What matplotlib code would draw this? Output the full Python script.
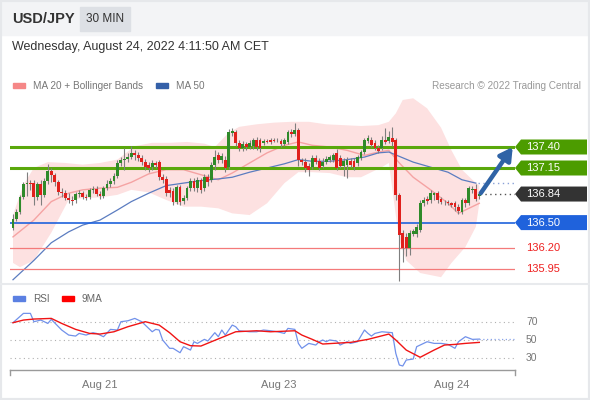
import numpy as np
import matplotlib.pyplot as plt
import matplotlib.transforms as mtransforms
from matplotlib.patches import Polygon, Rectangle
from matplotlib.lines import Line2D

plt.rcParams['font.family'] = ['Liberation Sans', 'DejaVu Sans']

# ── 30 min USD/JPY candles ──
opens = [
    136.44, 136.54, 136.63, 136.80, 136.96, 136.97, 136.97, 136.80, 136.96, 136.83,
    137.00, 137.11, 137.07, 136.98, 136.86, 136.85, 136.79, 136.77, 136.77, 136.84,
    136.85, 136.80, 136.80, 136.89, 136.90, 136.84, 136.82, 136.91, 136.96, 137.00,
    137.05, 137.21, 137.25, 137.26, 137.28, 137.33, 137.30, 137.27, 137.22, 137.19,
    137.16, 137.21, 137.22, 137.04, 137.02, 136.89, 136.88, 136.75, 136.92, 136.76,
    136.79, 136.91, 137.00, 136.91, 137.01, 136.91, 137.04, 137.01, 137.19, 137.30,
    137.25, 137.25, 137.16, 137.57, 137.58, 137.45, 137.39, 137.44, 137.40, 137.41,
    137.48, 137.48, 137.45, 137.47, 137.48, 137.48, 137.48, 137.47, 137.44, 137.46,
    137.58, 137.55, 137.60, 137.25, 137.22, 137.17, 137.16, 137.27, 137.23, 137.17,
    137.22, 137.25, 137.25, 137.33, 137.27, 137.17, 137.19, 137.23, 137.23, 137.21,
    137.27, 137.34, 137.47, 137.48, 137.45, 137.39, 137.39, 137.48, 137.47, 137.51,
    137.48, 136.83, 136.38, 136.33, 136.20, 136.36, 136.36, 136.41, 136.73, 136.78,
    136.77, 136.83, 136.85, 136.78, 136.75, 136.75, 136.73, 136.73, 136.69, 136.63,
    136.77, 136.73, 136.89, 136.90, 136.82,
]
highs = [
    136.60, 136.66, 136.83, 136.98, 137.10, 137.01, 137.01, 136.98, 137.01, 137.03,
    137.20, 137.15, 137.09, 137.01, 136.91, 136.89, 136.85, 136.82, 136.86, 136.89,
    136.88, 136.84, 136.91, 136.94, 136.94, 136.88, 136.94, 137.01, 137.03, 137.09,
    137.25, 137.28, 137.39, 137.33, 137.41, 137.36, 137.34, 137.30, 137.26, 137.22,
    137.25, 137.23, 137.25, 137.08, 137.05, 136.92, 136.91, 136.95, 136.95, 136.83,
    136.94, 137.03, 137.03, 137.04, 137.03, 137.08, 137.08, 137.22, 137.36, 137.34,
    137.33, 137.29, 137.61, 137.63, 137.60, 137.48, 137.47, 137.46, 137.48, 137.51,
    137.52, 137.51, 137.50, 137.50, 137.51, 137.51, 137.51, 137.50, 137.51, 137.60,
    137.61, 137.69, 137.63, 137.27, 137.27, 137.21, 137.30, 137.30, 137.27, 137.27,
    137.29, 137.30, 137.33, 137.38, 137.30, 137.27, 137.28, 137.27, 137.27, 137.30,
    137.36, 137.51, 137.54, 137.52, 137.48, 137.42, 137.53, 137.63, 137.59, 137.64,
    137.51, 136.85, 136.41, 136.38, 136.41, 136.42, 136.48, 136.77, 136.80, 136.82,
    136.89, 136.86, 136.88, 136.80, 136.77, 136.77, 136.75, 136.76, 136.72, 136.79,
    136.79, 136.94, 136.94, 136.96, 136.86,
]
lows = [
    136.41, 136.52, 136.60, 136.78, 136.82, 136.89, 136.71, 136.77, 136.71, 136.80,
    136.96, 136.98, 136.94, 136.83, 136.80, 136.77, 136.73, 136.71, 136.73, 136.80,
    136.78, 136.77, 136.78, 136.85, 136.82, 136.78, 136.79, 136.89, 136.92, 136.96,
    137.03, 137.17, 137.13, 137.22, 137.26, 137.25, 137.23, 137.19, 137.13, 137.10,
    137.13, 137.15, 137.01, 136.97, 136.82, 136.80, 136.71, 136.72, 136.71, 136.72,
    136.77, 136.88, 136.88, 136.86, 136.85, 136.88, 136.94, 136.98, 137.13, 137.21,
    137.21, 137.10, 137.14, 137.53, 137.41, 137.35, 137.35, 137.36, 137.38, 137.38,
    137.36, 137.34, 137.42, 137.45, 137.44, 137.46, 137.46, 137.40, 137.41, 137.44,
    137.52, 137.53, 137.17, 137.19, 137.10, 137.05, 137.14, 137.20, 137.13, 137.15,
    137.20, 137.22, 137.22, 137.13, 137.15, 137.05, 137.03, 137.16, 137.13, 137.17,
    137.25, 137.32, 137.45, 137.40, 137.36, 137.33, 137.36, 137.44, 137.45, 137.41,
    136.77, 135.80, 136.03, 136.10, 136.11, 136.34, 136.33, 136.39, 136.70, 136.72,
    136.73, 136.77, 136.73, 136.72, 136.71, 136.71, 136.69, 136.64, 136.60, 136.60,
    136.69, 136.71, 136.85, 136.76, 136.78,
]
closes = [
    136.54, 136.63, 136.80, 136.96, 136.97, 136.96, 136.80, 136.96, 136.83, 137.00,
    137.11, 137.07, 136.98, 136.86, 136.85, 136.79, 136.77, 136.76, 136.84, 136.85,
    136.80, 136.79, 136.89, 136.90, 136.84, 136.82, 136.91, 136.96, 137.00, 137.05,
    137.21, 137.25, 137.26, 137.28, 137.33, 137.30, 137.27, 137.22, 137.16, 137.15,
    137.21, 137.19, 137.04, 137.01, 136.85, 136.85, 136.75, 136.92, 136.75, 136.79,
    136.91, 137.00, 136.91, 137.01, 136.89, 137.04, 136.98, 137.19, 137.28, 137.25,
    137.29, 137.15, 137.58, 137.59, 137.45, 137.39, 137.44, 137.40, 137.45, 137.48,
    137.40, 137.39, 137.47, 137.46, 137.46, 137.47, 137.48, 137.44, 137.48, 137.58,
    137.55, 137.60, 137.25, 137.22, 137.15, 137.13, 137.27, 137.22, 137.15, 137.22,
    137.26, 137.28, 137.30, 137.15, 137.17, 137.23, 137.25, 137.19, 137.16, 137.28,
    137.34, 137.48, 137.51, 137.42, 137.39, 137.35, 137.48, 137.46, 137.52, 137.46,
    136.83, 136.35, 136.20, 136.20, 136.38, 136.40, 136.45, 136.73, 136.77, 136.76,
    136.85, 136.85, 136.77, 136.75, 136.74, 136.73, 136.71, 136.69, 136.64, 136.77,
    136.73, 136.91, 136.90, 136.78, 136.84,
]

# ── Indicators (sampled at candle index) ──
ma20_idx = [0, 6, 11, 16, 20, 25, 30, 34, 39, 44, 49, 54, 59, 63, 68, 73, 78, 82, 86,
            91, 96, 101, 105, 108, 111, 115, 120, 125, 128, 131, 134]
ma20_val = [136.33, 136.53, 136.75, 136.85, 136.89, 136.91, 136.92, 136.98, 137.08, 137.13,
            137.13, 137.07, 137.01, 137.09, 137.21, 137.33, 137.42, 137.46, 137.42, 137.40,
            137.36, 137.30, 137.34, 137.36, 137.21, 137.04, 136.89, 136.73, 136.61, 136.67,
            136.73]

ma50_idx = [0, 6, 11, 16, 20, 25, 30, 34, 39, 44, 49, 54, 59, 63, 68, 73, 78, 82, 86,
            91, 96, 101, 105, 108, 115, 120, 125, 129, 133]
ma50_val = [135.82, 136.05, 136.26, 136.39, 136.47, 136.53, 136.65, 136.75, 136.85, 136.94,
            136.97, 137.00, 137.02, 137.04, 137.10, 137.15, 137.20, 137.25, 137.23, 137.23,
            137.25, 137.28, 137.33, 137.34, 137.22, 137.16, 137.10, 137.01, 136.97]

bb_up_idx = [0, 3, 6, 10, 15, 20, 25, 30, 35, 40, 45, 50, 55, 58, 62, 65, 70, 75, 80, 85,
             90, 95, 100, 105, 108, 110, 112, 115, 119, 123, 126, 129, 132, 134]
bb_up_val = [136.59, 136.95, 137.15, 137.22, 137.21, 137.19, 137.21, 137.25, 137.41, 137.45,
             137.45, 137.46, 137.44, 137.40, 137.57, 137.64, 137.67, 137.69, 137.70, 137.70,
             137.67, 137.66, 137.65, 137.66, 137.70, 137.80, 137.96, 137.98, 137.86, 137.63,
             137.36, 137.13, 137.01, 136.94]
bb_lo_idx = [0, 2, 6, 11, 16, 20, 25, 30, 34, 39, 44, 49, 54, 59, 63, 68, 73, 78, 82, 86,
             91, 96, 100, 103, 106, 108, 110, 111, 113, 117, 123, 126, 130, 133, 134]
bb_lo_val = [136.02, 135.97, 136.05, 136.38, 136.77, 136.79, 136.80, 136.83, 136.89, 136.86,
             136.77, 136.69, 136.69, 136.67, 136.61, 136.59, 136.73, 136.97, 137.10, 137.10,
             137.09, 137.04, 137.04, 137.10, 137.16, 137.21, 136.59, 136.29, 136.05, 135.90,
             135.85, 136.02, 136.21, 136.45, 136.73]

rsi_idx = [0, 3, 5, 6, 8, 10, 11, 14, 16, 18, 19, 21, 23, 24, 26, 28, 30, 31, 33, 35,
           37, 38, 40, 41, 42, 43, 45, 46, 48, 49, 50, 51, 52, 53, 55, 56, 58, 59, 60, 61,
           63, 64, 65, 68, 70, 72, 74, 76, 78, 79, 81, 82, 83, 85, 87, 88, 89, 90, 91, 93,
           94, 96, 97, 99, 101, 102, 103, 104, 106, 109, 110, 111, 112, 113, 115, 116, 117,
           119, 121, 123, 125, 127, 128, 130, 132, 134]
rsi_val = [68.9, 79.1, 79.1, 70.0, 71.8, 68.1, 72.5, 60.9, 55.4, 54.3, 57.2, 55.4, 58.0, 57.2,
           53.6, 61.6, 60.9, 70.0, 71.0, 73.6, 70.0, 66.3, 59.0, 61.6, 60.9, 50.0, 40.9, 40.9,
           36.1, 42.7, 40.9, 39.0, 48.1, 46.3, 50.7, 48.9, 58.0, 53.6, 60.9, 55.4, 66.3, 64.5,
           60.1, 59.0, 59.0, 60.9, 60.1, 59.0, 57.2, 62.7, 61.6, 46.3, 40.9, 46.3, 44.5, 48.1,
           50.0, 48.1, 50.0, 48.9, 44.5, 48.1, 46.3, 48.1, 60.9, 57.2, 54.3, 57.2, 59.0, 58.0,
           35.4, 22.7, 21.6, 28.1, 29.2, 42.7, 44.5, 48.1, 46.3, 46.3, 45.2, 40.9, 48.1, 53.6,
           50.7, 51.0]
ma9_idx = [0, 3, 6, 11, 14, 18, 22, 25, 29, 33, 38, 42, 45, 48, 51, 54, 57, 61, 64, 70,
           74, 81, 83, 86, 89, 92, 97, 102, 108, 110, 113, 117, 121, 124, 127, 130, 134]
ma9_val = [68.9, 71.8, 72.9, 73.6, 68.1, 61.6, 57.2, 56.5, 59.0, 64.5, 70.0, 66.3, 58.0, 48.1,
           43.8, 43.4, 48.1, 54.3, 59.0, 60.1, 59.0, 60.1, 55.4, 50.7, 45.6, 46.3, 47.4, 50.7,
           56.5, 50.0, 39.0, 31.1, 39.0, 44.5, 45.2, 46.3, 47.4]

levels_res = [137.40, 137.15]
level_pivot = 136.50
levels_sup = [136.20, 135.95]
tick_pos = [25, 76.4, 126.1]
tick_labels = ['Aug 21', 'Aug 23', 'Aug 24']

# ── Figure ──
W, H = 590, 400
fig = plt.figure(figsize=(W / 100, H / 100), dpi=100)

def px_axes(x0, y0, x1, y1):
    return fig.add_axes([x0 / W, 1 - y1 / H, (x1 - x0) / W, (y1 - y0) / H])

def fx(x):
    return x / W

def fy(y):
    return 1 - y / H

GREEN = '#4c9c00'
LINE_GREEN = '#5aa80c'
BLUE = '#1f62dc'
RED = '#ee2020'
GREY_TXT = '#777777'

# header strip
fig.patches.append(Rectangle((0, fy(35)), 1, 35 / H, transform=fig.transFigure,
                             color='#f3f4f6', zorder=0))
fig.patches.append(Rectangle((fx(80), fy(31)), 50 / W, 24 / H, transform=fig.transFigure,
                             color='#dde0e5', zorder=1))
fig.text(fx(12), fy(19), 'USD/JPY', weight='bold', fontsize=10.5, color='#333333', va='center')
fig.text(fx(105), fy(19), '30 MIN', fontsize=8.5, color='#333333', va='center', ha='center')
fig.text(fx(12), fy(47), 'Wednesday, August 24, 2022 4:11:50 AM CET', fontsize=9,
         color='#333333', va='center')

# top legend
fig.patches.append(Rectangle((fx(13), fy(88)), 12 / W, 5 / H, transform=fig.transFigure,
                             color='#f58787'))
fig.text(fx(33), fy(86), 'MA 20 + Bollinger Bands', fontsize=7.2, color=GREY_TXT, va='center')
fig.patches.append(Rectangle((fx(156), fy(88)), 12 / W, 5 / H, transform=fig.transFigure,
                             color='#3460a8'))
fig.text(fx(176), fy(86), 'MA 50', fontsize=7.2, color=GREY_TXT, va='center')
fig.text(fx(581), fy(86), 'Research \u00a9 2022 Trading Central', fontsize=7.2,
         color='#999999', va='center', ha='right')

# separators / frame
fig.lines.append(Line2D([0, 1], [fy(284), fy(284)], transform=fig.transFigure,
                        color='#e8eaed', lw=1.5))
fig.patches.append(Rectangle((0, 0), 1, 1, transform=fig.transFigure, fill=False,
                             edgecolor='#e6e8eb', lw=3))

# ── Price panel ──
n = len(closes)
idx = np.arange(n)
o = np.array(opens)
c = np.array(closes)
xmin, xmax = (10 - 13) / 3.48, (515 - 13) / 3.48

ax = px_axes(10, 95, 515, 283)
ax.set_xlim(xmin, xmax)
ax.set_ylim(137.40 - 136 / 84, 137.40 + 52 / 84)
ax.axis('off')

ax.fill(np.r_[bb_up_idx, bb_lo_idx[::-1]], np.r_[bb_up_val, bb_lo_val[::-1]],
        color='#fde1e1', lw=0, zorder=1)
ax.plot(ma20_idx, ma20_val, color='#f5a3a3', lw=1, zorder=2)
ax.plot(ma50_idx, ma50_val, color='#5b7cc0', lw=0.9, zorder=2)

for lv in levels_res:
    ax.axhline(lv, color=LINE_GREEN, lw=2.2, zorder=2.5)
ax.axhline(level_pivot, color=BLUE, lw=1.2, zorder=2.5)
for lv in levels_sup:
    ax.axhline(lv, color='#f47a7a', lw=0.9, zorder=2.5)

up = c >= o
ax.vlines(idx, lows, highs, color='#7f7f7f', lw=0.8, zorder=3)
ax.bar(idx, np.maximum(np.abs(c - o), 0.008), bottom=np.minimum(o, c), width=0.8,
       color=np.where(up, '#2f8a2a', '#e0201c'), lw=0, zorder=4)

# dotted continuation of last price and MA50
ax.plot([n - 0.7, xmax], [closes[-1]] * 2, ls=(0, (1, 2.5)), color='#555555', lw=1, zorder=3)
ax.plot([n - 1.5, xmax], [ma50_val[-1]] * 2, ls=(0, (1, 2.5)), color='#8aa2d8', lw=1, zorder=3)

# forecast arrow
ax.annotate('', xy=(n - 1 + 9.6, levels_res[0]), xytext=(n - 1 + 0.4, closes[-1] + 0.01),
            arrowprops=dict(arrowstyle='-|>,head_width=0.42,head_length=0.75',
                            color='#2f63a6', lw=3.2, shrinkA=0, shrinkB=0),
            annotation_clip=False, zorder=6)

# price tags on the right
trans = mtransforms.blended_transform_factory(ax.transAxes, ax.transData)
hh = 7.5 / 84
x_tip, x_body, x_end = 1.0, 1.0 + 6 / 505, (587 - 10) / 505
x_txt = (526 - 10) / 505

def tag(y, label, color):
    poly = Polygon([(x_tip, y), (x_body, y + hh), (x_end, y + hh), (x_end, y - hh),
                    (x_body, y - hh)], closed=True, transform=trans, color=color,
                   clip_on=False, lw=0)
    ax.add_patch(poly)
    ax.text(x_txt, y, label, transform=trans, color='white', fontsize=8, va='center',
            ha='left', clip_on=False)

for lv in levels_res:
    tag(lv, f'{lv:.2f}', GREEN)
tag(closes[-1], f'{closes[-1]:.2f}', '#333333')
tag(level_pivot, f'{level_pivot:.2f}', BLUE)
for lv in levels_sup:
    ax.text(x_txt, lv, f'{lv:.2f}', transform=trans, color=RED, fontsize=8, va='center',
            ha='left', clip_on=False)

# ── RSI panel ──
ax2 = px_axes(10, 305, 515, 370)
ax2.set_xlim(xmin, xmax)
ax2.set_ylim(30 - 11.7 / 0.915, 70 + 16.7 / 0.915)
for s in ['top', 'left', 'right']:
    ax2.spines[s].set_visible(False)
ax2.spines['bottom'].set_color('#9a9a9a')
ax2.spines['bottom'].set_linewidth(1)
ax2.set_yticks([])
ax2.set_xticks(tick_pos)
ax2.set_xticklabels(tick_labels, fontsize=8, color=GREY_TXT)
ax2.tick_params(axis='x', length=0, pad=7)
for xe in (0, 1):
    ax2.plot([xe, xe], [0, -0.07], transform=ax2.transAxes, clip_on=False,
             color='#9a9a9a', lw=1)

trans2 = mtransforms.blended_transform_factory(ax2.transAxes, ax2.transData)
for v in (30, 50, 70):
    ax2.axhline(v, ls=(0, (1, 3)), color='#b0b0b0', lw=0.8)
    ax2.text(x_txt, v, str(v), transform=trans2, color=GREY_TXT, fontsize=7.5,
             va='center', ha='left', clip_on=False)

ax2.plot(rsi_idx, rsi_val, color='#7191ea', lw=0.9)
ax2.plot([rsi_idx[-1], xmax], [rsi_val[-1]] * 2, ls=(0, (1, 2)), color='#8aa4ea', lw=0.9)
ax2.plot(ma9_idx, ma9_val, color='#f01414', lw=1)

# RSI legend
fig.patches.append(Rectangle((fx(13), fy(301)), 12 / W, 5 / H, transform=fig.transFigure,
                             color='#5b80e2'))
fig.text(fx(33), fy(299), 'RSI', fontsize=7.2, color='#666666', va='center')
fig.patches.append(Rectangle((fx(62), fy(301)), 12 / W, 5 / H, transform=fig.transFigure,
                             color='#ff0000'))
fig.text(fx(82), fy(299), '9MA', fontsize=7.2, color='#666666', va='center')

fig.savefig('out.png', dpi=100)
